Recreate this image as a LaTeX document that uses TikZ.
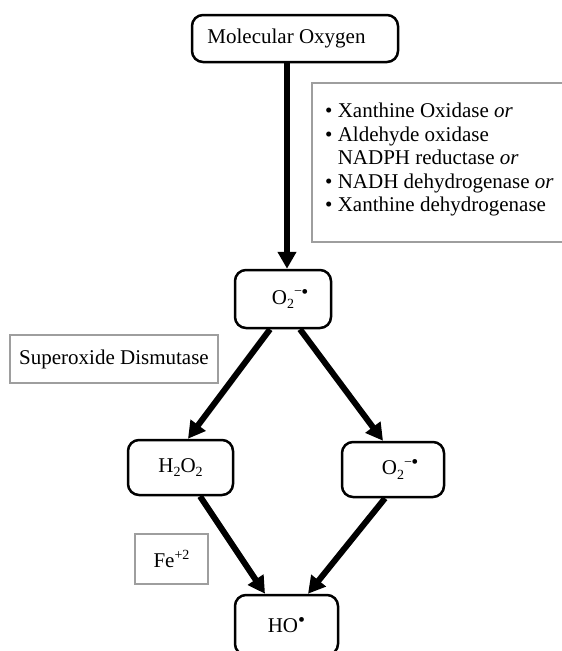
\documentclass[tikz,border=0pt]{standalone}
\usepackage{fontspec}
\setmainfont{Liberation Serif}
\usetikzlibrary{arrows.meta}
\newcommand{\mysup}[1]{\raisebox{0.42em}{\fontsize{14}{14}\selectfont #1}}
\newcommand{\mysub}[1]{\raisebox{-0.22em}{\fontsize{14}{14}\selectfont #1}}
\newcommand{\mydot}{\raisebox{0.3em}{\fontsize{20}{20}\selectfont •}}
\newcommand{\myrad}{\rlap{\mysup{−}\kern-0.5pt\mydot}}
\begin{document}
\begin{tikzpicture}[x=1pt,y=-1pt,
  txt/.style={font=\fontsize{21}{23.5}\selectfont},
  rbox/.style={txt,draw=black,line width=2.5pt,rounded corners=11pt,inner sep=0pt},
  gbox/.style={txt,draw=black!38,line width=2pt,inner sep=0pt},
  arr/.style={line width=6pt,-{Triangle[length=17pt,width=18pt]}}]
\useasboundingbox (0,0) rectangle (562,651);
\begin{scope}
\clip (0,0) rectangle (562,651);
\node[rbox,minimum width=206pt,minimum height=47pt] (mo) at (295,38.5) {Molecular Oxygen\hspace*{17pt}};
\node[gbox,minimum width=260pt,minimum height=159pt] (enz) at (442,162.5) {};
\node[txt,anchor=north west,inner sep=0pt,align=left] (enztxt) at (325,103)
  {\textbullet\ Xanthine Oxidase \textit{or}\\
   \textbullet\ Aldehyde oxidase\\
   \phantom{\textbullet\ }NADPH reductase \textit{or}\\
   \textbullet\ NADH dehydrogenase \textit{or}\\
   \textbullet\ Xanthine dehydrogenase};
\node[rbox,minimum width=96pt,minimum height=58pt] (o2) at (283,299) {O\mysub{2}\myrad};
\node[gbox,minimum width=208pt,minimum height=48pt] (sod) at (114,359) {Superoxide Dismutase};
\node[rbox,minimum width=105pt,minimum height=55pt] (h2o2) at (180.5,467.5) {H\mysub{2}O\mysub{2}};
\node[rbox,minimum width=102pt,minimum height=55pt] (o2r) at (393,469.5) {O\mysub{2}\myrad};
\node[gbox,minimum width=73pt,minimum height=50pt] (fe) at (171.5,559) {Fe\mysup{+2}};
\node[rbox,minimum width=103pt,minimum height=60pt] (ho) at (286.5,625) {HO\mydot};
\draw[arr] ([xshift=-8pt]mo.south) -- ([xshift=4pt]o2.north);
\draw[arr] ([xshift=-13pt]o2.south) -- ([xshift=7.5pt]h2o2.north);
\draw[arr] ([xshift=17pt]o2.south) -- ([xshift=-10pt]o2r.north);
\draw[arr] ([xshift=19.5pt]h2o2.south) -- ([xshift=-21.5pt]ho.north);
\draw[arr] ([xshift=-8pt]o2r.south) -- ([xshift=21.5pt]ho.north);
\end{scope}
\end{tikzpicture}
\end{document}
